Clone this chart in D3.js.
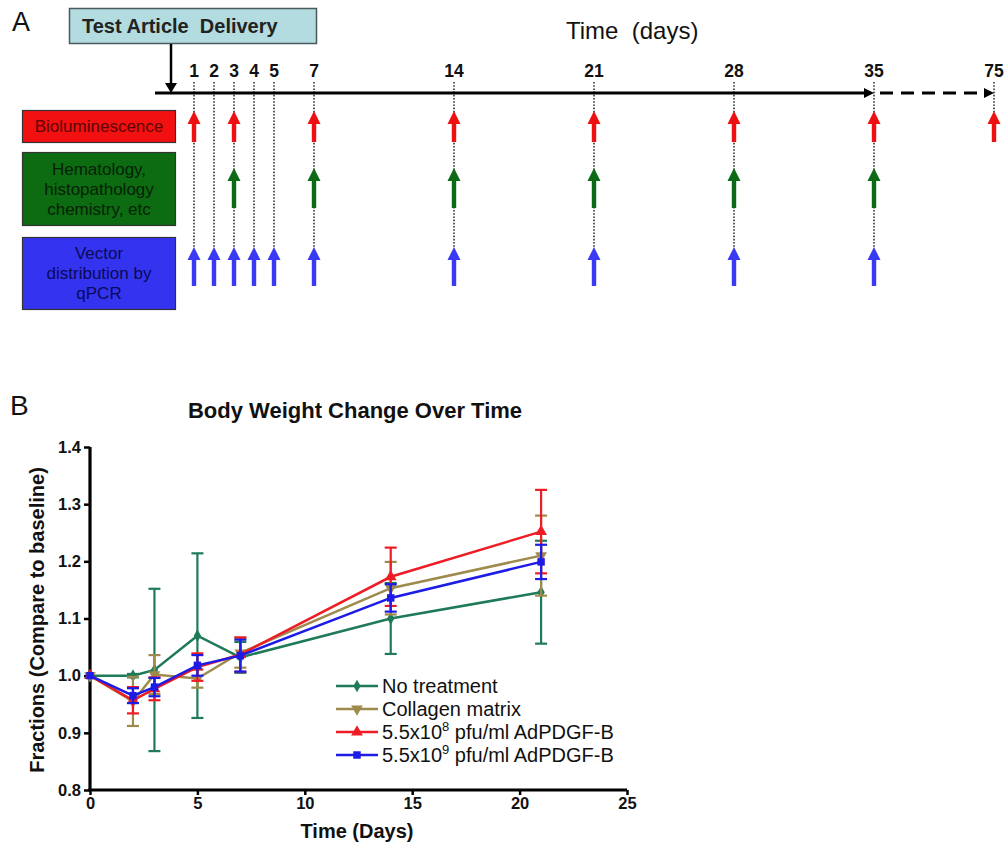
<!DOCTYPE html>
<html>
<head>
<meta charset="utf-8">
<script src="https://cdn.jsdelivr.net/npm/d3@7"></script>
<style>
  html, body { margin: 0; padding: 0; background: #fff; }
  svg { display: block; font-family: "Liberation Sans", Arial, sans-serif; }
</style>
</head>
<body>
<svg id="fig" width="1005" height="844"></svg>
<script>
// ---------- Panel A: study timeline ----------
const timelineDays = [1, 2, 3, 4, 5, 7, 14, 21, 28, 35, 75];
const biolumDays = [1, 3, 7, 14, 21, 28, 35, 75];
const hematDays = [3, 7, 14, 21, 28, 35];
const vectorDays = [1, 2, 3, 4, 5, 7, 14, 21, 28, 35];

// ---------- Panel B: body weight ----------
const days = [0, 2, 3, 5, 7, 14, 21];
const noTreatment    = [1.000, 1.000, 1.010, 1.070, 1.032, 1.100, 1.146];
const noTreatmentErr = [0.000, 0.003, 0.142, 0.144, 0.027, 0.062, 0.090];
const collagen       = [1.000, 0.955, 1.002, 0.995, 1.040, 1.153, 1.210];
const collagenErr    = [0.000, 0.043, 0.034, 0.016, 0.026, 0.046, 0.070];
const lowDose        = [1.000, 0.957, 0.977, 1.015, 1.037, 1.173, 1.252];
const lowDoseErr     = [0.000, 0.023, 0.020, 0.024, 0.030, 0.051, 0.073];
const highDose       = [1.000, 0.965, 0.980, 1.018, 1.035, 1.136, 1.199];
const highDoseErr    = [0.000, 0.013, 0.016, 0.018, 0.028, 0.024, 0.030];

const xTicks = [0, 5, 10, 15, 20, 25];
const yTicks = [0.8, 0.9, 1.0, 1.1, 1.2, 1.3, 1.4];

const svg = d3.select("#fig");

// ===== Panel A =====
const dayX = d3.scaleLinear().domain([0, 35, 75]).range([174, 874, 994]);

svg.append("text").attr("x", 12).attr("y", 31)
  .attr("font-size", 27).attr("fill", "#111").text("A");

// delivery box
svg.append("rect").attr("x", 69.5).attr("y", 8.5).attr("width", 247).attr("height", 35)
  .attr("fill", "#b2dcdf").attr("stroke", "#4a5a5c").attr("stroke-width", 1.5);
svg.append("text").attr("x", 82).attr("y", 33)
  .attr("font-size", 20).attr("font-weight", "bold").attr("fill", "#222")
  .attr("xml:space", "preserve").text("Test Article  Delivery");

svg.append("text").attr("x", 566).attr("y", 39)
  .attr("font-size", 24).attr("fill", "#111")
  .attr("xml:space", "preserve").text("Time  (days)");

const axisY = 93;
// delivery arrow
svg.append("line").attr("x1", 171).attr("x2", 171).attr("y1", 44).attr("y2", 84)
  .attr("stroke", "#000").attr("stroke-width", 2.5);
svg.append("path").attr("d", `M165,83 L177,83 L171,93 Z`).attr("fill", "#000");

// dotted guide lines
svg.append("g").selectAll("line").data(timelineDays).join("line")
  .attr("x1", d => dayX(d)).attr("x2", d => dayX(d))
  .attr("y1", 82).attr("y2", d => d === 75 ? 112 : 248)
  .attr("stroke", "#333").attr("stroke-width", 1.6).attr("stroke-dasharray", "1.6,1.6");

// solid part of the time axis
svg.append("line").attr("x1", 155).attr("x2", dayX(35) - 8).attr("y1", axisY).attr("y2", axisY)
  .attr("stroke", "#000").attr("stroke-width", 3);
svg.append("path").attr("d", `M${dayX(35) - 10},${axisY - 5} L${dayX(35)},${axisY} L${dayX(35) - 10},${axisY + 5} Z`)
  .attr("fill", "#000");
// dashed continuation
svg.append("line").attr("x1", dayX(35) + 6).attr("x2", dayX(75) - 8).attr("y1", axisY).attr("y2", axisY)
  .attr("stroke", "#000").attr("stroke-width", 3).attr("stroke-dasharray", "13,8");
svg.append("path").attr("d", `M${dayX(75) - 10},${axisY - 5} L${dayX(75)},${axisY} L${dayX(75) - 10},${axisY + 5} Z`)
  .attr("fill", "#000");

// day labels
svg.append("g").selectAll("text").data(timelineDays).join("text")
  .attr("x", d => dayX(d)).attr("y", 77)
  .attr("text-anchor", "middle").attr("font-size", 17.5).attr("font-weight", "bold")
  .attr("fill", "#111").text(d => d);

// category boxes
const rows = [
  { y: 110, h: 32, fill: "#f21010", text: "#5a0606", lines: ["Bioluminescence"], days: biolumDays, arrow: "#ee1111", tip: 111, bottom: 142 },
  { y: 152, h: 73, fill: "#0d6b12", text: "#062206", lines: ["Hematology,", "histopathology", "chemistry, etc"], days: hematDays, arrow: "#0c6a16", tip: 168, bottom: 208 },
  { y: 237, h: 72, fill: "#3434f0", text: "#0a0a55", lines: ["Vector", "distribution by", "qPCR"], days: vectorDays, arrow: "#3a3af4", tip: 247, bottom: 286 }
];

rows.forEach(r => {
  svg.append("rect").attr("x", 22.5).attr("y", r.y + 0.5).attr("width", 153).attr("height", r.h)
    .attr("fill", r.fill).attr("stroke", "#333").attr("stroke-width", 1.2);
  const lh = 20;
  const startY = r.y + r.h / 2 - (r.lines.length - 1) * lh / 2 + 6;
  svg.append("g").selectAll("text").data(r.lines).join("text")
    .attr("x", 99).attr("y", (d, i) => startY + i * lh)
    .attr("text-anchor", "middle").attr("font-size", 17).attr("fill", r.text).text(d => d);
  const g = svg.append("g").attr("fill", r.arrow);
  g.selectAll("rect").data(r.days).join("rect")
    .attr("x", d => dayX(d) - 2.2).attr("y", r.tip + 10).attr("width", 4.4)
    .attr("height", r.bottom - r.tip - 10);
  g.selectAll("path").data(r.days).join("path")
    .attr("d", d => `M${dayX(d) - 6.5},${r.tip + 13} L${dayX(d)},${r.tip} L${dayX(d) + 6.5},${r.tip + 13} Z`);
});

// ===== Panel B =====
const x = d3.scaleLinear().domain([0, 25]).range([90, 627]);
const y = d3.scaleLinear().domain([0.8, 1.4]).range([790, 447]);

svg.append("text").attr("x", 10).attr("y", 415)
  .attr("font-size", 28).attr("fill", "#111").text("B");

svg.append("text").attr("x", 355).attr("y", 418)
  .attr("text-anchor", "middle").attr("font-size", 22).attr("font-weight", "bold")
  .attr("fill", "#111").text("Body Weight Change Over Time");

const yAxis = svg.append("g").attr("transform", "translate(90,0)")
  .call(d3.axisLeft(y).tickValues(yTicks).tickFormat(d3.format(".1f")).tickSize(6).tickPadding(3));
const xAxis = svg.append("g").attr("transform", "translate(0,790)")
  .call(d3.axisBottom(x).tickValues(xTicks).tickFormat(d3.format("d")).tickSize(5).tickPadding(2));
[xAxis, yAxis].forEach(a => {
  a.select(".domain").attr("stroke", "#000").attr("stroke-width", 3.2);
  a.selectAll(".tick line").attr("stroke", "#000").attr("stroke-width", 2.5);
  a.selectAll(".tick text").attr("font-size", 16.5).attr("font-weight", "bold")
    .attr("fill", "#111").attr("font-family", "Liberation Sans, Arial, sans-serif");
});
yAxis.select(".domain").attr("d", `M0,${y(1.4)}V${y(0.8)}`);
xAxis.select(".domain").attr("d", `M${x(0) - 1.5},0H${x(25)}`);

svg.append("text").attr("transform", "translate(44,620) rotate(-90)")
  .attr("text-anchor", "middle").attr("font-size", 20).attr("font-weight", "bold")
  .attr("fill", "#111").text("Fractions (Compare to baseline)");
svg.append("text").attr("x", 357).attr("y", 838)
  .attr("text-anchor", "middle").attr("font-size", 20).attr("font-weight", "bold")
  .attr("fill", "#111").text("Time (Days)");

const series = [
  { name: "No treatment", values: noTreatment, errs: noTreatmentErr, color: "#1f7a58", marker: "diamond", size: 46 },
  { name: "Collagen matrix", values: collagen, errs: collagenErr, color: "#9e8a4c", marker: "down", size: 60 },
  { name: "5.5x10", sup: "8", tail: " pfu/ml AdPDGF-B", values: lowDose, errs: lowDoseErr, color: "#ee1c24", marker: "up", size: 60 },
  { name: "5.5x10", sup: "9", tail: " pfu/ml AdPDGF-B", values: highDose, errs: highDoseErr, color: "#1c1ce6", marker: "square", size: 56 }
];

function markerPath(kind, size) {
  if (kind === "diamond") return d3.symbol(d3.symbolDiamond, size)();
  if (kind === "square") return d3.symbol(d3.symbolSquare, size)();
  return d3.symbol(d3.symbolTriangle, size)();
}
function markerRot(kind) { return kind === "down" ? " rotate(180)" : ""; }

const line = d3.line().x(d => x(d[0])).y(d => y(d[1]));
const plot = svg.append("g");
const capW = 6;

series.forEach(s => {
  const pts = days.map((d, i) => [d, s.values[i], s.errs[i]]);
  const g = plot.append("g");
  // error bars
  const eb = g.append("g").attr("stroke", s.color).attr("stroke-width", 2.2);
  pts.filter(p => p[2] > 0).forEach(p => {
    const cx = x(p[0]), top = y(p[1] + p[2]), bot = y(p[1] - p[2]);
    eb.append("line").attr("x1", cx).attr("x2", cx).attr("y1", top).attr("y2", bot);
    eb.append("line").attr("x1", cx - capW).attr("x2", cx + capW).attr("y1", top).attr("y2", top);
    eb.append("line").attr("x1", cx - capW).attr("x2", cx + capW).attr("y1", bot).attr("y2", bot);
  });
  g.append("path").datum(pts).attr("d", line)
    .attr("fill", "none").attr("stroke", s.color).attr("stroke-width", 2.5);
  g.selectAll("path.mk").data(pts).join("path").attr("class", "mk")
    .attr("d", markerPath(s.marker, s.size))
    .attr("transform", p => `translate(${x(p[0])},${y(p[1])})${markerRot(s.marker)}`)
    .attr("fill", s.color);
});

// legend
const legend = svg.append("g").attr("transform", "translate(336,686)");
series.forEach((s, i) => {
  const row = legend.append("g").attr("transform", `translate(0,${i * 23})`);
  row.append("line").attr("x1", 0).attr("x2", 42).attr("y1", 0).attr("y2", 0)
    .attr("stroke", s.color).attr("stroke-width", 2.5);
  row.append("path").attr("d", markerPath(s.marker, s.size))
    .attr("transform", `translate(21,0)${markerRot(s.marker)}`).attr("fill", s.color);
  const t = row.append("text").attr("x", 46).attr("y", 7)
    .attr("font-size", 20).attr("fill", "#111");
  t.append("tspan").text(s.name);
  if (s.sup) {
    t.append("tspan").attr("dy", -8).attr("font-size", 13).text(s.sup);
    t.append("tspan").attr("dy", 8).text(s.tail);
  }
});
</script>
</body>
</html>
